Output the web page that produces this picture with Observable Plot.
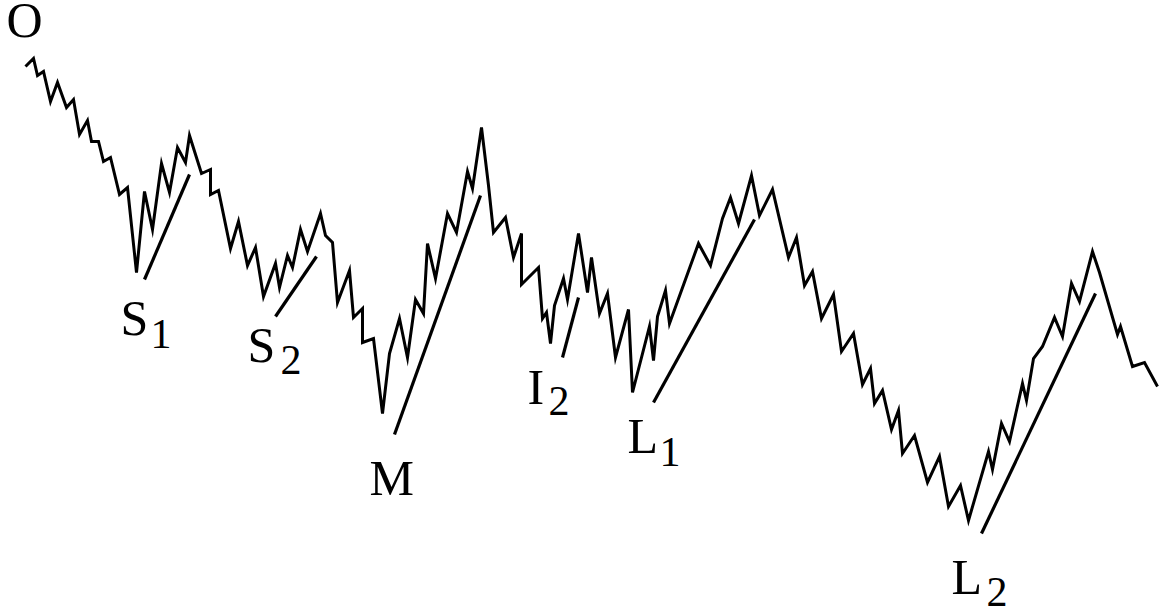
<!DOCTYPE html>
<html>
<head>
<meta charset="utf-8">
<script src="https://cdn.jsdelivr.net/npm/d3@7"></script>
<script src="https://cdn.jsdelivr.net/npm/@observablehq/plot@0.6"></script>
<style>
  html, body { margin: 0; padding: 0; background: #fff; }
  #chart svg { display: block; }
</style>
</head>
<body>
<div id="chart"></div>
<script>
// Horizontal position (time) of each turning point of the price path
const pathT = [25,33,37,43,50,57,66,73,79,87,91,98,103,110,119,127,136,144,152,161,169,177,185,189,201,210,210,218,230,238,247,255,263,275,279,287,292,300,307,320,325,332,
  337,349,353,362,362,373,382,389,399,407,415,423,427,435,447,456,467,472,481,488,493,505,513,521,521,538,542,546,550,554,563,567,578,587,591,599,607,615,628,632,
  649,653,657,665,669,698,710,722,730,738,751,759,772,788,796,804,812,821,833,841,853,862,870,874,882,891,898,902,914,927,939,948,960,968,
  988,992,1001,1009,1022,1026,1033,1042,1054,1062,1071,1079,1092,1099,1117,1120,1132,1144,1157];
// Depth below the top of the frame at each turning point (larger = lower)
const pathDepth = [66,58,75,71,101,82,107,99,134,120,141,141,161,157,194,187,272,191,229,163,192,147,162,135,173,169,194,190,248,221,265,247,296,263,287,255,267,229,251,213,235,242,
  302,270,317,308,342,338,413,353,318,357,299,313,243,278,213,232,171,188,127,185,232,217,257,233,284,267,318,312,343,305,278,299,233,292,257,313,293,357,309,392,
  326,360,316,290,323,243,265,218,197,223,175,215,189,257,237,285,271,318,294,351,333,384,368,403,390,429,410,453,435,482,456,506,485,520,
  451,469,423,441,383,400,358,346,317,336,283,301,251,272,334,326,366,362,386];

// Trend lines: start and end (time, depth)
const trendT1 = [144, 275, 394, 562, 653, 981];
const trendD1 = [279, 316, 434, 357, 402, 533];
const trendT2 = [189, 316, 480, 578, 754, 1095];
const trendD2 = [174, 256, 195, 297, 219, 293];

// Point labels
const labelText = ["O", "S", "S", "M", "I", "L", "L"];
const labelT = [6, 120, 247, 369, 527, 627, 951];
const labelD = [36, 334, 361, 494, 403, 452, 593];
const subText = ["1", "2", "2", "1", "2"];
const subT = [150, 280, 548, 659, 986];
const subD = [347, 373, 414, 465, 605];

const path = pathT.map((t, i) => ({t, d: pathDepth[i]}));
const trends = trendT1.map((t, i) => ({t1: t, d1: trendD1[i], t2: trendT2[i], d2: trendD2[i]}));
const labels = labelText.map((s, i) => ({s, t: labelT[i], d: labelD[i]}));
const subs = subText.map((s, i) => ({s, t: subT[i], d: subD[i]}));

const serif = "'Liberation Serif', 'Times New Roman', serif";

const chart = Plot.plot({
  width: 1167,
  height: 614,
  margin: 0,
  x: {domain: [0, 1167], axis: null},
  y: {domain: [0, 614], reverse: true, axis: null},
  style: {background: "#fff"},
  marks: [
    Plot.line(path, {x: "t", y: "d", stroke: "black", strokeWidth: 3, strokeLinejoin: "miter", strokeMiterlimit: 6, strokeLinecap: "butt", curve: "linear"}),
    Plot.link(trends, {x1: "t1", y1: "d1", x2: "t2", y2: "d2", stroke: "black", strokeWidth: 3.2, strokeLinecap: "butt"}),
    Plot.text(labels, {x: "t", y: "d", text: "s", textAnchor: "start", lineAnchor: "bottom", fontFamily: serif, fontSize: 50, fill: "black"}),
    Plot.text(subs, {x: "t", y: "d", text: "s", textAnchor: "start", lineAnchor: "bottom", fontFamily: serif, fontSize: 42, fill: "black"})
  ]
});
document.getElementById("chart").appendChild(chart);
</script>
</body>
</html>
